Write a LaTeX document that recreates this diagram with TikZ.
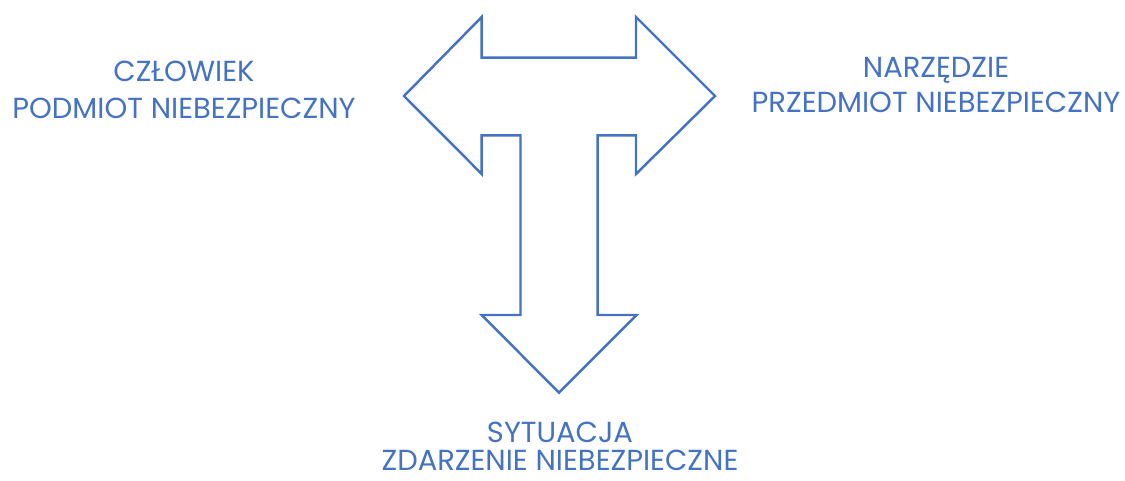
\documentclass[tikz,border=0pt]{standalone}
\usepackage{fontspec}
\setmainfont{Poppins}
\definecolor{arrowblue}{HTML}{4472C4}
\begin{document}
\begin{tikzpicture}[x=0.02cm, y=-0.02cm,
  txt/.style={text=arrowblue, align=center, inner sep=0pt}]
\useasboundingbox (0,0) rectangle (1125,480);

% three-way arrow
\draw[arrowblue, line width=1.4pt, line join=miter]
  (404,96) -- (481.7,17) -- (481.7,57.7) -- (636,57.7) -- (636,17) -- (715,96)
  -- (636,174) -- (636,135.3) -- (597.7,135.3) -- (597.7,315) -- (636.7,315)
  -- (559,392.7) -- (481.7,315) -- (520.5,315) -- (520.5,135.3) -- (481.7,135.3)
  -- (481.7,174) -- cycle;

\node[txt, font=\fontsize{16.5}{21}\selectfont] (human) at (184,90) {CZŁOWIEK\\PODMIOT NIEBEZPIECZNY};
\node[txt, font=\fontsize{16.5}{20}\selectfont] (tool) at (936,85) {NARZĘDZIE\\PRZEDMIOT NIEBEZPIECZNY};
\node[txt, font=\fontsize{16.5}{16}\selectfont] (event) at (560,446) {SYTUACJA\\ZDARZENIE NIEBEZPIECZNE};
\end{tikzpicture}
\end{document}
